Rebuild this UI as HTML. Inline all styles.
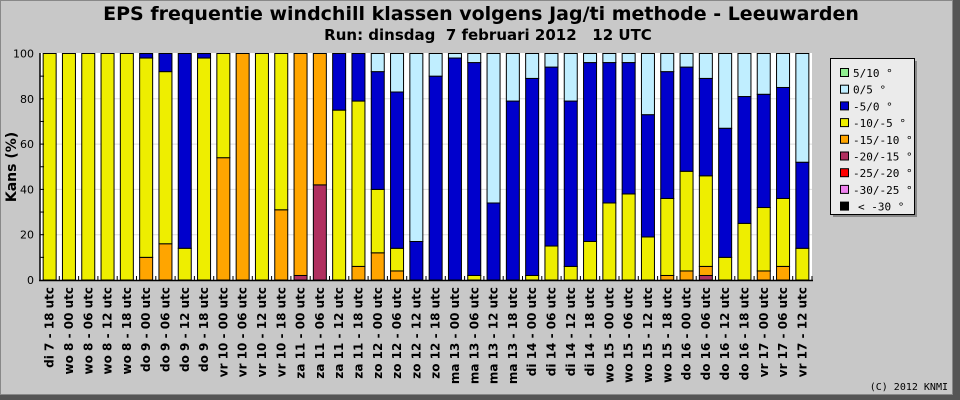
<!DOCTYPE html>
<html><head><meta charset="utf-8"><style>
html,body{margin:0;padding:0;background:#c8c8c8}
svg{display:block}
</style></head><body>
<svg width="960" height="400" xmlns="http://www.w3.org/2000/svg" font-family="DejaVu Sans, sans-serif">
<rect x="0" y="0" width="960" height="400" fill="#c8c8c8"/>
<rect x="953" y="0" width="7" height="400" fill="#555"/>
<rect x="0" y="395" width="960" height="5" fill="#555"/>
<rect x="0.5" y="0.5" width="952" height="394" fill="none" stroke="#888"/>
<text x="481" y="20" text-anchor="middle" font-size="19" font-weight="bold">EPS frequentie windchill klassen volgens Jag/ti methode - Leeuwarden</text>
<text x="488" y="40" text-anchor="middle" font-size="15" font-weight="bold" xml:space="preserve" style="white-space:pre">Run: dinsdag  7 februari 2012   12 UTC</text>
<rect x="40" y="53" width="772" height="227" fill="#fff"/>
<g id="grid"></g>
<g id="bars"></g>
<line x1="40" y1="53" x2="40" y2="281" stroke="#000" stroke-width="1.5"/>
<line x1="39" y1="280.5" x2="813" y2="280.5" stroke="#000" stroke-width="1.5"/>
<g id="yticks" font-size="11" fill="#000"></g>
<g id="xlabels" font-size="12" font-weight="bold"></g>
<text transform="translate(16,167) rotate(-90)" text-anchor="middle" font-size="14" font-weight="bold">Kans (%)</text>
<g id="legend">
<rect x="833" y="61" width="84" height="156" fill="#888"/>
<rect x="830.5" y="58.5" width="84" height="156" fill="#ebebeb" stroke="#000"/>
</g>
<text x="948" y="390" text-anchor="end" font-size="10" font-family="DejaVu Sans Mono, monospace">(C) 2012 KNMI</text>
<script>
const labels=["di 7 - 18 utc","wo 8 - 00 utc","wo 8 - 06 utc","wo 8 - 12 utc","wo 8 - 18 utc","do 9 - 00 utc","do 9 - 06 utc","do 9 - 12 utc","do 9 - 18 utc","vr 10 - 00 utc","vr 10 - 06 utc","vr 10 - 12 utc","vr 10 - 18 utc","za 11 - 00 utc","za 11 - 06 utc","za 11 - 12 utc","za 11 - 18 utc","zo 12 - 00 utc","zo 12 - 06 utc","zo 12 - 12 utc","zo 12 - 18 utc","ma 13 - 00 utc","ma 13 - 06 utc","ma 13 - 12 utc","ma 13 - 18 utc","di 14 - 00 utc","di 14 - 06 utc","di 14 - 12 utc","di 14 - 18 utc","wo 15 - 00 utc","wo 15 - 06 utc","wo 15 - 12 utc","wo 15 - 18 utc","do 16 - 00 utc","do 16 - 06 utc","do 16 - 12 utc","do 16 - 18 utc","vr 17 - 00 utc","vr 17 - 06 utc","vr 17 - 12 utc"];
const m20=[0,0,0,0,0,0,0,0,0,0,0,0,0,2,42,0,0,0,0,0,0,0,0,0,0,0,0,0,0,0,0,0,0,0,2,0,0,0,0,0];
const m15=[0,0,0,0,0,10,16,0,0,54,100,0,31,98,58,0,6,12,4,0,0,0,0,0,0,0,0,0,0,0,0,0,2,4,4,0,0,4,6,0];
const m10=[100,100,100,100,100,88,76,14,98,46,0,100,69,0,0,75,73,28,10,0,0,0,2,0,0,2,15,6,17,34,38,19,34,44,40,10,25,28,30,14];
const m5=[0,0,0,0,0,2,8,86,2,0,0,0,0,0,0,25,21,52,69,17,90,98,94,34,79,87,79,73,79,62,58,54,56,46,43,57,56,50,49,38];
const p0=[0,0,0,0,0,0,0,0,0,0,0,0,0,0,0,0,0,8,17,83,10,2,4,66,21,11,6,21,4,4,4,27,8,6,11,33,19,18,15,48];
const p5=labels.map(()=>0);
const yTicks=[0,20,40,60,80,100];
const legendNames=["5/10 °","0/5 °","-5/0 °","-10/-5 °","-15/-10 °","-20/-15 °","-25/-20 °","-30/-25 °","< -30 °"];
const legendColors=["#90ee90","#c0eeff","#0000cc","#eeee00","#ffa500","#b03060","#ff0000","#ee82ee","#000000"];
const NS="http://www.w3.org/2000/svg";
const X0=40,X1=812,Y0=280,Y1=53.5;
const step=(X1-X0)/labels.length, bw=13;
const y=v=>Y0-(Y0-Y1)*v/100;
const xc=i=>X0+step*(i+0.5);
function mk(tag,attrs,parent){const e=document.createElementNS(NS,tag);for(const k in attrs)e.setAttribute(k,attrs[k]);parent.appendChild(e);return e;}
const grid=document.getElementById('grid'),yt=document.getElementById('yticks');
yTicks.forEach(t=>{
 if(t>0&&t<100){const g=mk('line',{x1:X0,x2:X1,y1:y(t),y2:y(t),stroke:'#ddd'},grid);
 
 }
 const tx=mk('text',{x:34,y:y(t)+4,'text-anchor':'end'},yt);tx.textContent=t;
 
 
});
for(let t=10;t<100;t+=10){mk('line',{x1:40,x2:44,y1:y(t),y2:y(t),stroke:'#000'},yt);}
const series=[[m20,"#b03060","m20"],[m15,"#ffa500","m15"],[m10,"#eeee00","m10"],[m5,"#0000cc","m5"],[p0,"#c0eeff","p0"],[p5,"#90ee90","p5"]];
const bars=document.getElementById('bars'),xl=document.getElementById('xlabels');
labels.forEach((lab,i)=>{
 let cum=0;
 series.forEach(([arr,col,nm])=>{
  const v=arr[i]; if(v<=0) return;
  const r=mk('rect',{x:xc(i)-bw/2,y:y(cum+v),width:bw,height:y(cum)-y(cum+v),fill:col,stroke:'#000','stroke-width':1},bars);
  
  
  cum+=v;
 });
 mk('line',{x1:X0+step*(i+1),x2:X0+step*(i+1),y1:276,y2:280,stroke:'#000'},bars);
 const t=mk('text',{transform:`translate(${xc(i)+4},287) rotate(-90)`,'text-anchor':'end'},xl);
 t.textContent=lab;
 
 
});
const lg=document.getElementById('legend');
legendNames.forEach((n,i)=>{
 const yy=68+i*16.7;
 if(i<8){mk('rect',{x:840.5,y:yy+0.5,width:8,height:8,fill:legendColors[i],stroke:'#000'},lg);}
 else{mk('rect',{x:840,y:yy,width:9,height:9,fill:'#000'},lg);}
 const t=mk('text',{x:i==8?858:853,y:yy+9,'font-size':11,'font-family':'DejaVu Sans Mono, monospace'},lg);
 t.textContent=n;
 
 
});
</script>
</svg>
</body></html>
